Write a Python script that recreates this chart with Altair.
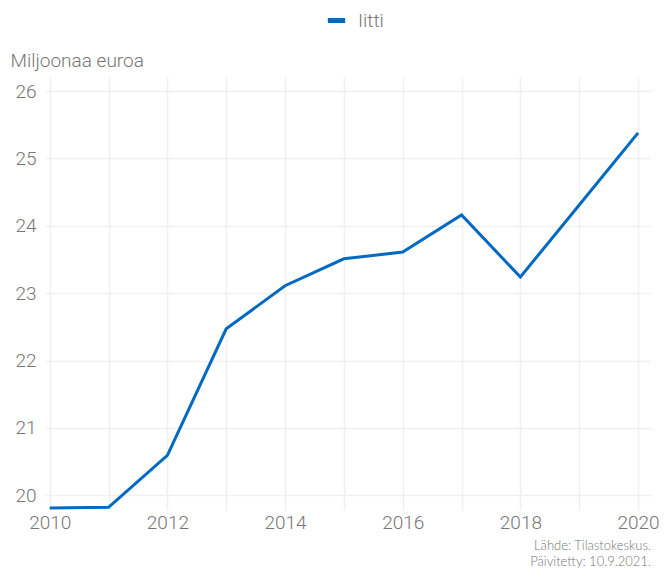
import altair as alt
import pandas as pd

years = [2010, 2011, 2012, 2013, 2014, 2015, 2016, 2017, 2018, 2019, 2020]
values = [19.81, 19.82, 20.59, 22.47, 23.11, 23.51, 23.61, 24.16, 23.24, 24.31, 25.38]
series = ["Iitti"] * len(years)
y_ticks = [20, 21, 22, 23, 24, 25, 26]

df = pd.DataFrame({"vuosi": years, "arvo": values, "alue": series})

FONT = "Roboto"
GREY = "#767676"

chart = alt.Chart(df).mark_line(strokeWidth=3, clip=False).encode(
    x=alt.X(
        "vuosi:Q",
        scale=alt.Scale(domain=[2009.92, 2020.22], nice=False, zero=False),
        axis=alt.Axis(
            values=years,
            labelExpr="datum.value % 2 == 0 ? format(datum.value, 'd') : ''",
            title=None,
            grid=True,
            gridColor="#f0f0f0",
            gridWidth=1.5,
            domain=False,
            ticks=False,
            labelPadding=3,
            labelFontSize=19,
            labelColor=GREY,
            labelFont=FONT,
            labelFontWeight=300,
        ),
    ),
    y=alt.Y(
        "arvo:Q",
        scale=alt.Scale(domain=[19.78, 26.21], nice=False, zero=False),
        axis=alt.Axis(
            values=y_ticks,
            format="d",
            title="Miljoonaa euroa",
            titleAngle=0,
            titleAlign="left",
            titleBaseline="alphabetic",
            titleX=-35,
            titleY=-11,
            titleFontSize=19,
            titleFontWeight=300,
            titleColor=GREY,
            titleFont=FONT,
            grid=True,
            gridColor="#f0f0f0",
            gridWidth=1.5,
            domain=False,
            ticks=False,
            labelPadding=9,
            labelFontSize=19,
            labelColor=GREY,
            labelFont=FONT,
            labelFontWeight=300,
        ),
    ),
    color=alt.Color(
        "alue:N",
        scale=alt.Scale(range=["#0069c2"]),
        legend=alt.Legend(
            title=None,
            orient="none",
            legendX=280,
            legendY=-68,
            symbolType="stroke",
            symbolStrokeWidth=5,
            symbolSize=300,
            labelOffset=10,
            labelFontSize=19,
            labelFont=FONT,
            labelFontWeight=300,
            labelColor=GREY,
        ),
    ),
).properties(
    width=606,
    height=433,
    padding={"left": 37, "top": 69, "right": 10, "bottom": 61},
    autosize=alt.AutoSizeParams(type="none"),
    title=alt.TitleParams(
        text=["Lähde: Tilastokeskus.", "Päivitetty: 10.9.2021."],
        orient="bottom",
        anchor="end",
        frame="group",
        fontSize=13,
        fontWeight=300,
        font="Lato",
        color=GREY,
        lineHeight=16,
        offset=8,
    ),
).configure_view(stroke=None)

chart.save("out.html", embed_options={"renderer": "svg", "actions": False})
